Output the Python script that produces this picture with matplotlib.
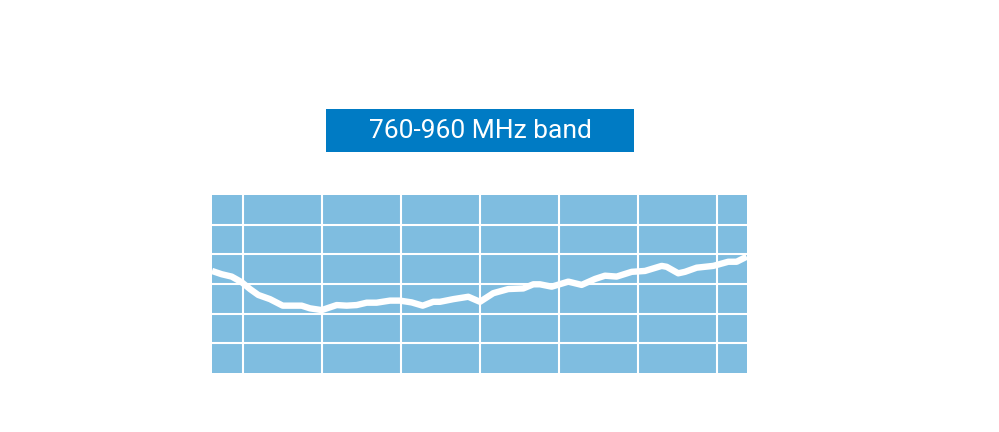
import matplotlib
matplotlib.use("Agg")
import matplotlib.pyplot as plt
from matplotlib.patches import Rectangle

# 신호 곡선 (x: 그리드 칸 단위, y: 그리드 칸 단위)
x_vals = [-0.392, -0.270, -0.143, -0.016, 0.089, 0.194, 0.342, 0.503, 0.743, 0.848,
          0.996, 1.186, 1.313, 1.439, 1.566, 1.692, 1.861, 1.987, 2.135, 2.275,
          2.409, 2.494, 2.663, 2.852, 3.0, 3.168, 3.358, 3.548, 3.675, 3.759,
          3.908, 4.118, 4.287, 4.456, 4.582, 4.730, 4.920, 5.089, 5.300, 5.363,
          5.510, 5.595, 5.743, 5.953, 6.143, 6.249, 6.376]
y_vals = [3.44, 3.33, 3.25, 3.06, 2.83, 2.63, 2.49, 2.27, 2.27, 2.18,
          2.12, 2.29, 2.27, 2.29, 2.37, 2.37, 2.44, 2.44, 2.38, 2.27,
          2.40, 2.40, 2.49, 2.57, 2.40, 2.69, 2.83, 2.85, 2.99, 2.99,
          2.91, 3.08, 2.97, 3.17, 3.28, 3.25, 3.41, 3.44, 3.61, 3.58,
          3.36, 3.41, 3.55, 3.61, 3.75, 3.75, 3.92]
x_grid = [0, 1, 2, 3, 4, 5, 6]
y_grid = [1, 2, 3, 4, 5]
title = "760-960 MHz band"

W, H = 999, 432
fig = plt.figure(figsize=(W / 100, H / 100), dpi=100)
ax = fig.add_axes([212 / W, (H - 373) / H, 535 / W, 178 / H])
ax.set_facecolor("#7fbde0")
ax.set_xlim(-0.392, 6.38)
ax.set_ylim(0, 6)
for gx in x_grid:
    ax.axvline(gx, color="white", lw=1.5, zorder=1)
for gy in y_grid:
    ax.axhline(gy, color="white", lw=1.5, zorder=1)
ax.plot(x_vals, y_vals, color="white", lw=4.6, solid_capstyle="butt",
        solid_joinstyle="round", zorder=2)
ax.set_xticks([]); ax.set_yticks([])
for s in ax.spines.values():
    s.set_visible(False)

# 제목 박스
fig.patches.append(Rectangle((326 / W, (H - 151.5) / H), 308 / W, 42.5 / H,
                             transform=fig.transFigure, facecolor="#007bc4",
                             edgecolor="none"))
fig.text(480.5 / W, (H - 130.5) / H, title, color="white", fontsize=19,
         family="Roboto", ha="center", va="center")

fig.savefig("out.png", dpi=100)
